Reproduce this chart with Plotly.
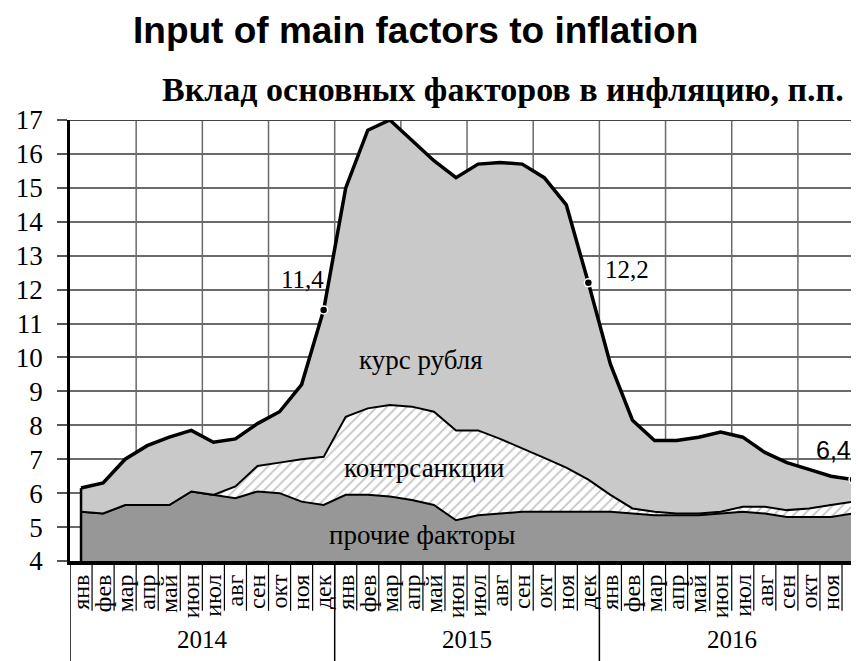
import plotly.graph_objects as go

months = ["янв", "фев", "мар", "апр", "май", "июн", "июл", "авг", "сен", "окт", "ноя", "дек"]
years = ["2014", "2015", "2016"]
month_labels = months * 3

# levels (п.п.): top of each stacked band
prochie_top = [5.45, 5.4, 5.65, 5.65, 5.65, 6.05, 5.95, 5.85, 6.05, 6.0, 5.75, 5.65,
               5.95, 5.95, 5.9, 5.8, 5.65, 5.2, 5.35, 5.4, 5.45, 5.45, 5.45, 5.45,
               5.45, 5.4, 5.35, 5.35, 5.35, 5.4, 5.45, 5.4, 5.3, 5.3, 5.3, 5.4]
kontr_top = [5.45, 5.4, 5.65, 5.65, 5.65, 6.05, 5.95, 6.2, 6.8, 6.9, 7.0, 7.07,
             8.25, 8.5, 8.6, 8.55, 8.4, 7.85, 7.85, 7.6, 7.33, 7.04, 6.75, 6.4,
             5.95, 5.55, 5.45, 5.4, 5.4, 5.45, 5.6, 5.6, 5.5, 5.55, 5.65, 5.75]
total = [6.15, 6.3, 7.0, 7.4, 7.65, 7.85, 7.5, 7.6, 8.05, 8.4, 9.2, 11.4,
         15.0, 16.7, 17.0, 16.4, 15.8, 15.3, 15.7, 15.75, 15.7, 15.3, 14.5, 12.2,
         9.8, 8.15, 7.55, 7.55, 7.65, 7.8, 7.65, 7.2, 6.9, 6.7, 6.5, 6.4]

marked_idx = [11, 23, 35]
marked_text = ["11,4", "12,2", "6,4"]

x = list(range(len(total)))
SERIF = "Liberation Serif"
SANS = "Liberation Sans"

fig = go.Figure()
fig.add_trace(go.Scatter(x=x, y=prochie_top, mode="lines", fill="tozeroy",
                         fillcolor="#979797", line=dict(color="black", width=2),
                         hoverinfo="skip", showlegend=False))
fig.add_trace(go.Scatter(x=x, y=kontr_top, mode="lines", fill="tonexty",
                         fillcolor="white",
                         fillpattern=dict(shape="/", fgcolor="#8a8a8a", bgcolor="white",
                                          size=7, solidity=0.25),
                         line=dict(color="black", width=2),
                         hoverinfo="skip", showlegend=False))
fig.add_trace(go.Scatter(x=x, y=total, mode="lines", fill="tonexty",
                         fillcolor="#c9c9c9", line=dict(color="black", width=3.5),
                         hoverinfo="skip", showlegend=False))
fig.add_trace(go.Scatter(x=marked_idx, y=[total[i] for i in marked_idx], mode="markers",
                         marker=dict(color="black", size=8, line=dict(color="white", width=1.5)),
                         hoverinfo="skip", showlegend=False))

shapes = []
# area side edges
for i in (0, len(total) - 1):
    shapes.append(dict(type="line", xref="x", yref="y", x0=i, x1=i, y0=4, y1=total[i],
                       line=dict(color="black", width=2.5), layer="above"))
# quarterly vertical gridlines
for k in range(1, 12):
    xv = -0.5 + 3 * k
    shapes.append(dict(type="line", xref="x", yref="paper", x0=xv, x1=xv, y0=0, y1=1,
                       line=dict(color="#6a6a6a", width=1.5), layer="below"))
# top line at 17
shapes.append(dict(type="line", xref="paper", yref="y", x0=0, x1=1, y0=17, y1=17,
                   line=dict(color="#444", width=2), layer="below"))
# month separators below axis
for k in range(1, 36):
    xv = -0.5 + k
    shapes.append(dict(type="line", xref="x", yref="paper", x0=xv, x1=xv, y0=0, y1=-0.113,
                       line=dict(color="black", width=1.2)))
# year separators
for k in range(3):
    xv = -0.5 + 12 * k
    shapes.append(dict(type="line", xref="x", yref="paper", x0=xv, x1=xv, y0=0, y1=-0.25,
                       line=dict(color="black", width=1.5)))

annotations = []
for j, yr in enumerate(years):
    annotations.append(dict(x=5.5 + 12 * j, y=-0.179, xref="x", yref="paper", text=yr,
                            yanchor="middle", showarrow=False,
                            font=dict(family=SERIF, size=25, color="black")))
annotations += [
    dict(x=10.02, y=12.3, xref="x", yref="y", text=marked_text[0], showarrow=False,
         font=dict(family=SERIF, size=25, color="black")),
    dict(x=24.75, y=12.58, xref="x", yref="y", text=marked_text[1], showarrow=False,
         font=dict(family=SERIF, size=25, color="black")),
    dict(x=34.1, y=7.27, xref="x", yref="y", text=marked_text[2], showarrow=False,
         font=dict(family=SANS, size=25, color="black")),
    dict(x=15.41, y=9.93, xref="x", yref="y", text="курс рубля", showarrow=False,
         font=dict(family=SERIF, size=27, color="black")),
    dict(x=15.55, y=6.74, xref="x", yref="y", text="контрсанкции", showarrow=False,
         font=dict(family=SERIF, size=27, color="black")),
    dict(x=15.46, y=4.77, xref="x", yref="y", text="прочие факторы", showarrow=False,
         font=dict(family=SERIF, size=27, color="black")),
]
# titles placed in window pixel terms (converted to paper coordinates)
titles = [
    ("<b>Input of main factors to inflation</b>", 415, 30, SANS, 37),
    ("<b>Вклад основных факторов в инфляцию, п.п.</b>", 503, 90, SERIF, 34),
]
for txt, wx, wy, fam, sz in titles:
    annotations.append(dict(x=(wx - 70) / 789, y=(561 - wy) / 441, xref="paper", yref="paper",
                            xanchor="center", yanchor="middle", text=txt, showarrow=False,
                            font=dict(family=fam, size=sz, color="black")))

fig.update_layout(
    width=851, height=653,
    margin=dict(l=62, r=0, t=112, b=100),
    paper_bgcolor="white", plot_bgcolor="white",
    shapes=shapes, annotations=annotations,
    xaxis=dict(range=[-0.5, 35.27], tickmode="array", tickvals=x, ticktext=month_labels,
               tickangle=-90, ticks="", showgrid=False, zeroline=False,
               showline=True, linecolor="black", linewidth=4,
               tickfont=dict(family=SERIF, size=24, color="black")),
    yaxis=dict(range=[4, 17], tickmode="linear", tick0=4, dtick=1,
               ticks="outside", ticklen=10, tickcolor="#555", tickwidth=1.5,
               showgrid=True, gridcolor="#6a6a6a", gridwidth=1.5, zeroline=False,
               showline=True, linecolor="black", linewidth=2.5,
               ticklabelstandoff=9,
               tickfont=dict(family=SERIF, size=27, color="black")),
)

fig.write_html("out.html")
